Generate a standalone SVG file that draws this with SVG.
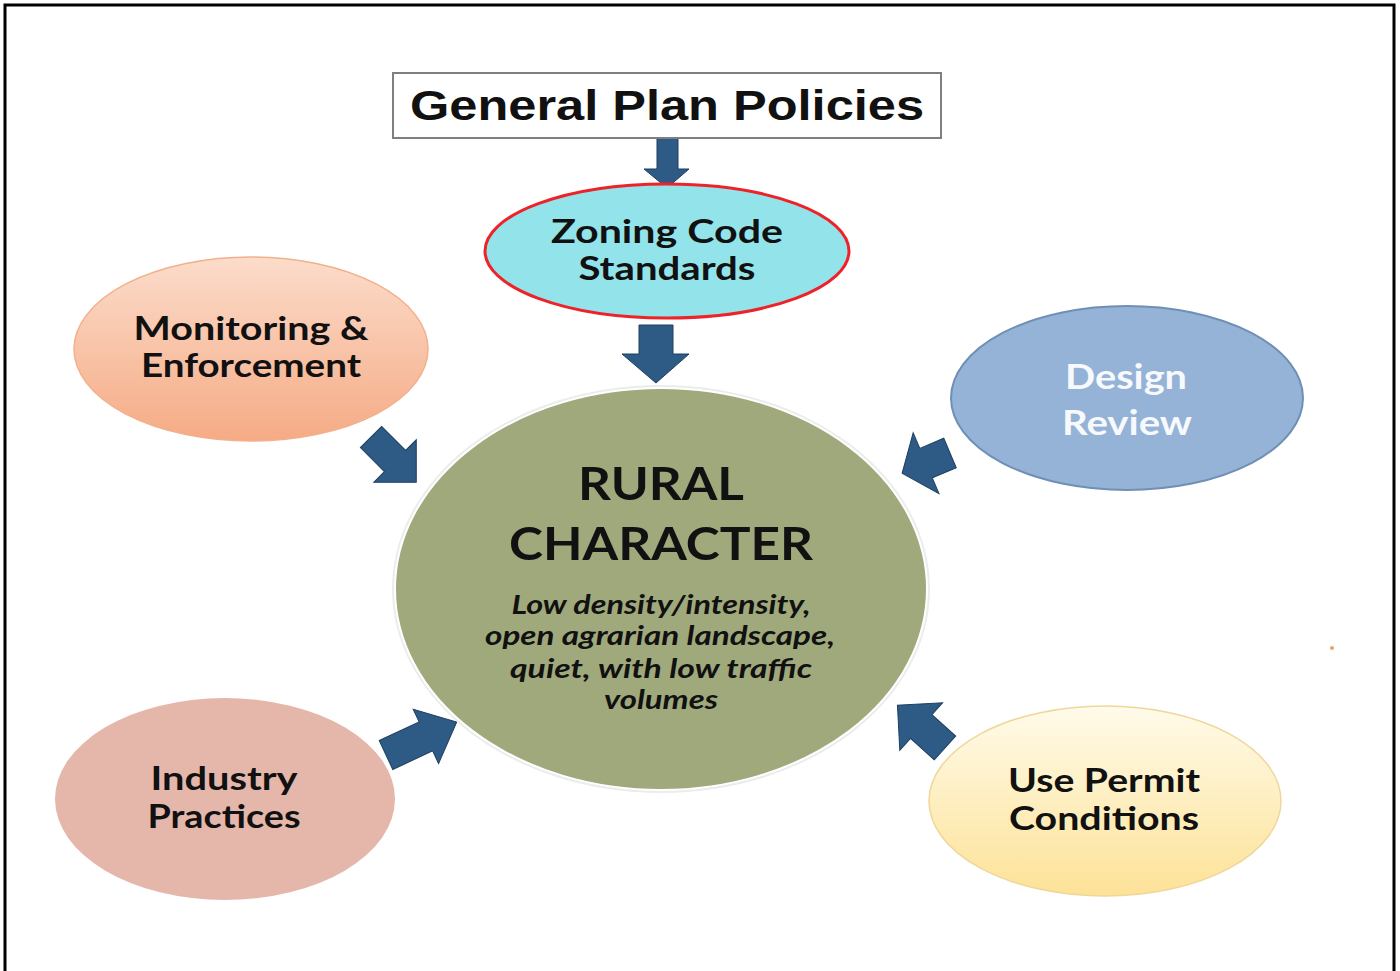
<svg xmlns="http://www.w3.org/2000/svg" width="1400" height="971" viewBox="0 0 1400 971">
<defs>
<linearGradient id="gMon" x1="0" y1="0" x2="0" y2="1">
<stop offset="0" stop-color="#fcdccb"/>
<stop offset="1" stop-color="#f5ab85"/>
</linearGradient>
<linearGradient id="gUse" x1="0" y1="0" x2="0" y2="1">
<stop offset="0" stop-color="#fffbea"/>
<stop offset="1" stop-color="#fde297"/>
</linearGradient>
</defs>
<style>
.frame{fill:none;stroke:#000;stroke-width:3}
.lbl{font-family:Lato,"Open Sans","DejaVu Sans",sans-serif;font-weight:700;text-anchor:middle;fill:#111}
.wht{fill:#f7f9fc}
.sub{font-family:Lato,"Open Sans","DejaVu Sans",sans-serif;font-weight:700;font-style:italic;text-anchor:middle;fill:#111;font-size:26px}
.arr{fill:#2e5b86;stroke:#1e3f60;stroke-width:1;stroke-linejoin:miter}
</style>
<rect x="0" y="0" width="1400" height="971" fill="#fff"/>
<path class="frame" d="M5,975 V5 H1394 V975"/>

<g id="connectors">
<polygon class="arr" points="657,138 678,138 678,169 689,169 667,188 644,169 657,169"/>
<polygon class="arr" points="639,325 673,325 673,354 689,354 656,383 622,354 639,354"/>
<polygon class="arr" points="0,-15 34,-15 34,-30 64,0 34,30 34,15 0,15" transform="translate(371,437) rotate(45)"/>
<polygon class="arr" points="0,-16 26,-16 26,-33 52,0 26,33 26,16 0,16" transform="translate(950,453) rotate(157)"/>
<polygon class="arr" points="0,-16 44,-16 44,-30 78,0 44,30 44,16 0,16" transform="translate(386,755) rotate(-25)"/>
<polygon class="arr" points="0,-16 32,-16 32,-32 64,0 32,32 32,16 0,16" transform="translate(945,748) rotate(222)"/>
</g>

<g id="general-plan">
<rect x="393" y="73" width="548" height="65" fill="#fff" stroke="#7f7f7f" stroke-width="2"/>
<text x="667" y="120" font-family="'Liberation Sans',Arial,sans-serif" font-weight="700" font-size="42" text-anchor="middle" fill="#111" textLength="514" lengthAdjust="spacingAndGlyphs">General Plan Policies</text>
</g>

<g id="zoning">
<ellipse cx="667" cy="251" rx="182" ry="67" fill="#93e4ea" stroke="#ee2229" stroke-width="3"/>
<text class="lbl" x="667" y="243" font-size="32" textLength="232" lengthAdjust="spacingAndGlyphs">Zoning Code</text>
<text class="lbl" x="667" y="280" font-size="32" textLength="177" lengthAdjust="spacingAndGlyphs">Standards</text>
</g>

<g id="rural">
<ellipse cx="661" cy="589" rx="269" ry="204" fill="#ececec"/>
<ellipse cx="661" cy="589" rx="266" ry="201" fill="#a0a97b" stroke="#ffffff" stroke-width="2"/>
<text class="lbl" x="661" y="500" font-size="46" textLength="166" lengthAdjust="spacingAndGlyphs">RURAL</text>
<text class="lbl" x="661" y="560" font-size="46" textLength="304" lengthAdjust="spacingAndGlyphs">CHARACTER</text>
<text class="sub" x="661" y="614" textLength="299" lengthAdjust="spacingAndGlyphs">Low density/intensity,</text>
<text class="sub" x="660" y="645" textLength="350" lengthAdjust="spacingAndGlyphs">open agrarian landscape,</text>
<text class="sub" x="661" y="678" textLength="302" lengthAdjust="spacingAndGlyphs">quiet, with low traffic</text>
<text class="sub" x="661" y="709" textLength="114" lengthAdjust="spacingAndGlyphs">volumes</text>
</g>

<g id="monitoring">
<ellipse cx="251" cy="349" rx="177" ry="92" fill="url(#gMon)" stroke="#f2b08c" stroke-width="1.5"/>
<text class="lbl" x="251" y="340" font-size="32" textLength="235" lengthAdjust="spacingAndGlyphs">Monitoring &amp;</text>
<text class="lbl" x="251" y="377" font-size="32" textLength="220" lengthAdjust="spacingAndGlyphs">Enforcement</text>
</g>

<g id="design">
<ellipse cx="1127" cy="398" rx="176" ry="92" fill="#94b3d6" stroke="#6f8fb5" stroke-width="2"/>
<text class="lbl wht" x="1126" y="389" font-size="34" textLength="122" lengthAdjust="spacingAndGlyphs">Design</text>
<text class="lbl wht" x="1127" y="435" font-size="34" textLength="130" lengthAdjust="spacingAndGlyphs">Review</text>
</g>

<g id="industry">
<ellipse cx="225" cy="799" rx="170" ry="101" fill="#e5b7ab"/>
<text class="lbl" x="224" y="790" font-size="33" textLength="147" lengthAdjust="spacingAndGlyphs">Industry</text>
<text class="lbl" x="224" y="828" font-size="33" textLength="153" lengthAdjust="spacingAndGlyphs">Practices</text>
</g>

<g id="use-permit">
<ellipse cx="1105" cy="801" rx="176" ry="95" fill="url(#gUse)" stroke="#efd79a" stroke-width="1.5"/>
<text class="lbl" x="1104" y="792" font-size="33" textLength="192" lengthAdjust="spacingAndGlyphs">Use Permit</text>
<text class="lbl" x="1104" y="830" font-size="33" textLength="190" lengthAdjust="spacingAndGlyphs">Conditions</text>
</g>

<circle cx="1332" cy="648" r="2" fill="#f0a070"/>
</svg>
